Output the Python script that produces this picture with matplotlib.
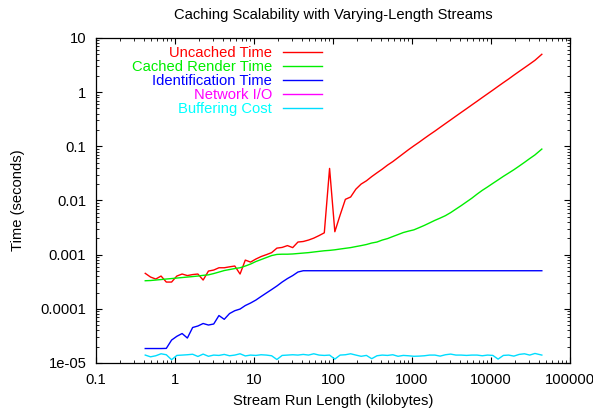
import matplotlib
matplotlib.use('Agg')
import matplotlib.pyplot as plt
from matplotlib.ticker import FuncFormatter

plt.rcParams['font.family'] = ['Liberation Sans', 'DejaVu Sans']

# stream run length (kilobytes)
run_length = [
    0.42, 0.49, 0.571, 0.666, 0.776, 0.905, 1.055, 1.23, 1.434, 1.672,
    1.949, 2.27, 2.65, 3.09, 3.6, 4.2, 4.9, 5.71, 6.66, 7.76,
    9.05, 10.55, 12.3, 14.34, 16.72, 19.49, 22.7, 26.5, 30.9, 36.0,
    42, 49, 57.1, 66.6, 77.6, 90.5, 105.5, 123, 143.4, 167.2,
    194.9, 227, 265, 309, 360, 420, 490, 571, 666, 776,
    905, 1055, 1230, 1434, 1672, 1949, 2270, 2650, 3090, 3600,
    4200, 4900, 5710, 6660, 7760, 9050, 10550, 12300, 14340, 16720,
    19490, 22700, 26500, 30900, 36000, 44000,
]

uncached = [
    4.52e-4, 3.86e-4, 3.55e-4, 4.03e-4, 3.12e-4, 3.12e-4, 4.03e-4, 4.39e-4, 4.11e-4, 4.29e-4,
    4.39e-4, 3.40e-4, 4.98e-4, 5.20e-4, 5.73e-4, 5.73e-4, 5.96e-4, 6.17e-4, 4.39e-4, 7.94e-4,
    7.29e-4, 8.30e-4, 9.23e-4, 1.00e-3, 1.09e-3, 1.32e-3, 1.36e-3, 1.47e-3, 1.35e-3, 1.71e-3,
    1.75e-3, 1.86e-3, 2.02e-3, 2.25e-3, 2.53e-3, 3.91e-2, 2.65e-3, 5.38e-3, 1.05e-2, 1.16e-2,
    1.62e-2, 2.01e-2, 2.31e-2, 2.76e-2, 3.24e-2, 3.79e-2, 4.50e-2, 5.22e-2, 6.19e-2, 7.33e-2,
    8.69e-2, 0.102, 0.119, 0.140, 0.164, 0.191, 0.224, 0.263, 0.308, 0.361,
    0.423, 0.495, 0.580, 0.679, 0.796, 0.932, 1.09, 1.28, 1.50, 1.75,
    2.06, 2.41, 2.82, 3.30, 3.87, 5.0,
]

cached_render = [
    3.30e-4, 3.33e-4, 3.40e-4, 3.47e-4, 3.55e-4, 3.62e-4, 3.70e-4, 3.78e-4, 3.86e-4, 3.94e-4,
    4.03e-4, 4.15e-4, 4.24e-4, 4.48e-4, 4.77e-4, 5.09e-4, 5.31e-4, 5.54e-4, 5.73e-4, 6.17e-4,
    6.71e-4, 7.46e-4, 8.12e-4, 8.84e-4, 9.62e-4, 1.01e-3, 1.02e-3, 1.02e-3, 1.03e-3, 1.05e-3,
    1.07e-3, 1.09e-3, 1.12e-3, 1.15e-3, 1.18e-3, 1.20e-3, 1.23e-3, 1.27e-3, 1.31e-3, 1.35e-3,
    1.41e-3, 1.47e-3, 1.54e-3, 1.64e-3, 1.71e-3, 1.86e-3, 1.98e-3, 2.16e-3, 2.35e-3, 2.56e-3,
    2.72e-3, 2.87e-3, 3.15e-3, 3.47e-3, 3.86e-3, 4.30e-3, 4.73e-3, 5.25e-3, 5.98e-3, 6.94e-3,
    8.05e-3, 9.42e-3, 1.10e-2, 1.31e-2, 1.54e-2, 1.78e-2, 2.07e-2, 2.40e-2, 2.79e-2, 3.21e-2,
    3.70e-2, 4.31e-2, 5.05e-2, 5.94e-2, 6.94e-2, 8.9e-2,
]

identification = [
    1.85e-5, 1.85e-5, 1.85e-5, 1.85e-5, 1.86e-5, 2.65e-5, 3.11e-5, 3.50e-5, 2.89e-5, 4.52e-5,
    4.82e-5, 5.36e-5, 5.02e-5, 5.25e-5, 7.52e-5, 6.40e-5, 8.18e-5, 9.23e-5, 9.91e-5, 1.15e-4,
    1.28e-4, 1.45e-4, 1.69e-4, 1.96e-4, 2.27e-4, 2.64e-4, 3.12e-4, 3.62e-4, 4.11e-4, 4.78e-4,
    5.05e-4, 5.05e-4, 5.05e-4, 5.05e-4, 5.05e-4, 5.05e-4, 5.05e-4, 5.05e-4, 5.05e-4, 5.05e-4,
    5.05e-4, 5.05e-4, 5.05e-4, 5.05e-4, 5.05e-4, 5.05e-4, 5.05e-4, 5.05e-4, 5.05e-4, 5.05e-4,
    5.05e-4, 5.05e-4, 5.05e-4, 5.05e-4, 5.05e-4, 5.05e-4, 5.05e-4, 5.05e-4, 5.05e-4, 5.05e-4,
    5.05e-4, 5.05e-4, 5.05e-4, 5.05e-4, 5.05e-4, 5.05e-4, 5.05e-4, 5.05e-4, 5.05e-4, 5.05e-4,
    5.05e-4, 5.05e-4, 5.05e-4, 5.05e-4, 5.05e-4, 5.05e-4,
]

# nothing of this series shows inside the plotted range
network_io = []

buffering = [
    1.40e-5, 1.30e-5, 1.36e-5, 1.48e-5, 1.42e-5, 1.15e-5, 1.38e-5, 1.40e-5, 1.42e-5, 1.45e-5,
    1.32e-5, 1.46e-5, 1.33e-5, 1.40e-5, 1.38e-5, 1.44e-5, 1.36e-5, 1.40e-5, 1.48e-5, 1.35e-5,
    1.40e-5, 1.38e-5, 1.42e-5, 1.40e-5, 1.36e-5, 1.16e-5, 1.38e-5, 1.40e-5, 1.42e-5, 1.40e-5,
    1.44e-5, 1.40e-5, 1.48e-5, 1.40e-5, 1.38e-5, 1.40e-5, 1.18e-5, 1.40e-5, 1.42e-5, 1.48e-5,
    1.40e-5, 1.33e-5, 1.38e-5, 1.20e-5, 1.36e-5, 1.40e-5, 1.38e-5, 1.42e-5, 1.33e-5, 1.38e-5,
    1.36e-5, 1.33e-5, 1.34e-5, 1.36e-5, 1.40e-5, 1.40e-5, 1.34e-5, 1.42e-5, 1.46e-5, 1.40e-5,
    1.40e-5, 1.38e-5, 1.40e-5, 1.40e-5, 1.36e-5, 1.40e-5, 1.38e-5, 1.18e-5, 1.38e-5, 1.40e-5,
    1.34e-5, 1.44e-5, 1.48e-5, 1.40e-5, 1.50e-5, 1.40e-5,
]

labels = ['Uncached Time', 'Cached Render Time', 'Identification Time', 'Network I/O', 'Buffering Cost']
colors = ['#ff0000', '#00ee00', '#0000ff', '#ff00ff', '#00ddff']
text_colors = ['#ff0000', '#00ee00', '#0000ff', '#ff00ff', '#00ffff']

fs = 10.6

fig = plt.figure(figsize=(5.93, 4.08), dpi=100)
ax = fig.add_axes([0.1619, 0.1103, 0.7993, 0.7966])

series = [uncached, cached_render, identification, network_io, buffering]
for ys, lab, col in zip(series, labels, colors):
    xs = run_length[:len(ys)]
    ax.plot(xs, ys, color=col, lw=1.0, label=lab)

ax.set_xscale('log')
ax.set_yscale('log')
ax.set_xlim(0.1, 100000)
ax.set_ylim(1e-5, 10)

fmt = FuncFormatter(lambda v, pos: '%g' % v)
ax.xaxis.set_major_formatter(fmt)
ax.yaxis.set_major_formatter(fmt)
ax.tick_params(which='both', direction='in', top=True, right=True, labelsize=fs, colors='black')
ax.tick_params(which='major', length=4.5, width=0.8, pad=7)
ax.tick_params(which='minor', length=2.2, width=0.6)
for s in ax.spines.values():
    s.set_linewidth(0.9)

fig.text(0.5616, 0.963, 'Caching Scalability with Varying-Length Streams', fontsize=fs,
         ha='center', va='center')
ax.set_xlabel('Stream Run Length (kilobytes)', fontsize=fs)
ax.set_ylabel('Time (seconds)', fontsize=fs)
ax.xaxis.set_label_coords(0.5, -0.095)
ax.yaxis.set_label_coords(-0.150, 0.5)

leg = ax.legend(loc='upper right', bbox_to_anchor=(0.477, 0.976), frameon=False,
                markerfirst=False, fontsize=fs, handlelength=2.65, handletextpad=0.75,
                labelspacing=0.0, borderpad=0, borderaxespad=0)
for txt, col in zip(leg.get_texts(), text_colors):
    txt.set_color(col)

plt.savefig('out.png', dpi=100)
